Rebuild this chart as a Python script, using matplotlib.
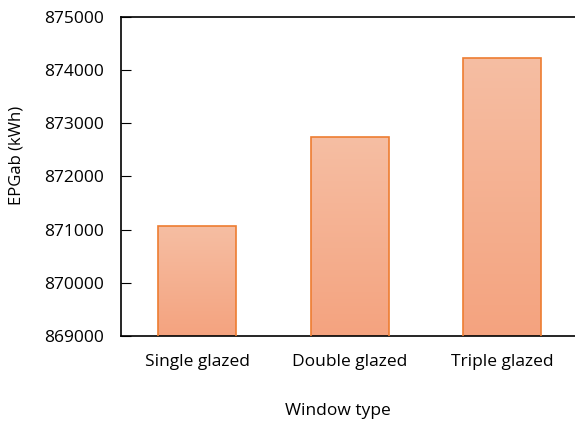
import numpy as np
import matplotlib.pyplot as plt
from matplotlib.colors import LinearSegmentedColormap

# window types and annual primary energy
windows = ['Single glazed', 'Double glazed', 'Triple glazed']
epgab = [871070, 872740, 874230]
yticks = [869000, 870000, 871000, 872000, 873000, 874000, 875000]

plt.rcParams['font.family'] = ['Open Sans', 'DejaVu Sans']

fig = plt.figure(figsize=(5.75, 4.25), dpi=100)
ax = fig.add_axes([121 / 575, 89 / 425, 457.5 / 575, 319 / 425])

x = np.arange(len(windows))
bars = ax.bar(x, epgab, width=0.51, bottom=0, color='none',
              edgecolor='#ED7D31', linewidth=1.2, zorder=3)

# vertical gradient fill inside each bar
cmap = LinearSegmentedColormap.from_list('peach', ['#F4A37F', '#F6BEA3'])
grad = np.linspace(0, 1, 256).reshape(-1, 1)
for b in bars:
    x0, w, h = b.get_x(), b.get_width(), b.get_height()
    im = ax.imshow(grad, cmap=cmap, origin='lower', aspect='auto',
                   extent=[x0, x0 + w, 869000, h], zorder=2)
    im.set_clip_path(b)

ax.set_xlim(-0.5, 2.5)
ax.set_ylim(869000, 875000)
ax.set_yticks(yticks)
ax.set_xticks(x)
ax.set_xticklabels(windows, fontsize=12.5)
ax.tick_params(axis='y', direction='in', length=7, labelsize=12.5, pad=12)
ax.tick_params(axis='x', length=0, pad=13)

for s in ax.spines.values():
    s.set_linewidth(1.2)

ax.set_ylabel('EPGab (kWh)', fontsize=12)
ax.set_xlabel('Window type', fontsize=12.5)
ax.yaxis.set_label_coords(-0.212, 0.567)
ax.xaxis.set_label_coords(0.473, -0.21)

fig.savefig('out.png', dpi=100)
